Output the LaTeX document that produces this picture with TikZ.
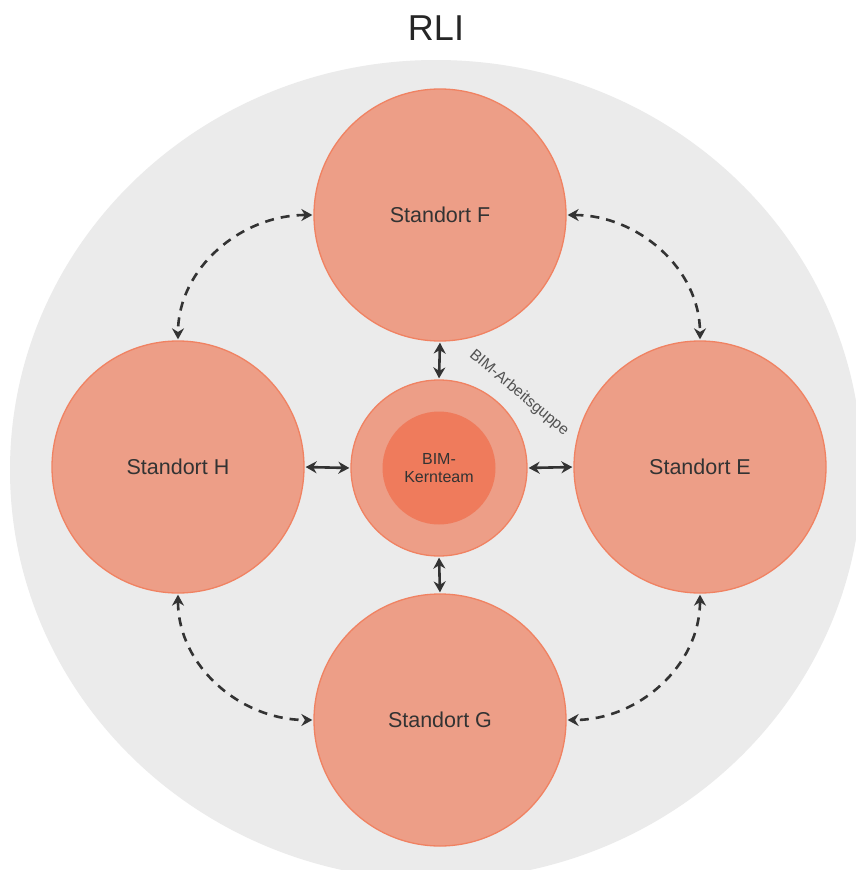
\documentclass[tikz,border=0pt]{standalone}
\usepackage{fontspec}
\setmainfont{Liberation Sans}
\usetikzlibrary{arrows.meta}
\definecolor{bggray}{HTML}{EBEBEB}
\definecolor{salmon}{HTML}{ED9E87}
\definecolor{salmonline}{HTML}{F08262}
\definecolor{coreorange}{HTML}{EF7B5C}
\definecolor{darktext}{HTML}{333333}
\tikzset{
  site/.style={circle, fill=salmon, draw=salmonline, line width=1.3pt, minimum size=252pt, inner sep=0pt, font=\fontsize{21.5}{24}\selectfont, text=darktext},
  hubring/.style={circle, fill=salmon, draw=salmonline, line width=1.3pt, minimum size=176pt, inner sep=0pt},
  hubcore/.style={circle, fill=coreorange, draw=none, minimum size=113pt, inner sep=0pt, font=\fontsize{16}{18}\selectfont, text=darktext, align=center},
  link/.style={draw=darktext, line width=2.6pt, {Stealth[length=11pt,width=12pt]}-{Stealth[length=11pt,width=12pt]}, shorten <=1pt, shorten >=1pt},
  dlink/.style={draw=darktext, line width=2.6pt, dash pattern=on 9pt off 7pt, {Stealth[length=11pt,width=12pt]}-{Stealth[length=11pt,width=12pt]}, shorten <=1pt, shorten >=1pt},
}
\begin{document}
\begin{tikzpicture}[x=1pt,y=-1pt]
\useasboundingbox (0,0) rectangle (856,870);
\fill[white] (0,0) rectangle (856,870);
\begin{scope}
\clip (0,0) rectangle (856,870);
\fill[bggray] (436,470) ellipse [x radius=426, y radius=410];
\end{scope}
\node[font=\fontsize{36}{40}\selectfont, text=black!85] (title) at (436,28) {RLI};
\node[site] (F) at (440,215) {Standort F};
\node[site] (H) at (178,467) {Standort H};
\node[site] (E) at (700,467) {Standort E};
\node[site] (G) at (440,720) {Standort G};
\node[hubring] (ring) at (439,468) {};
\node[hubcore] (core) at (439,468) {BIM-\\Kernteam};
\node[rotate=-40, font=\fontsize{15.5}{18}\selectfont, text=darktext!85] (wg) at (519,393) {BIM-Arbeitsguppe};
\draw[link] (F.south) -- (ring.north);
\draw[link] (H.east) -- (ring.west);
\draw[link] (ring.east) -- (E.west);
\draw[link] (ring.south) -- (G.north);
\draw[dlink] (F.west) to[out=180,in=90] (H.north);
\draw[dlink] (F.east) to[out=0,in=90] (E.north);
\draw[dlink] (H.south) to[out=-90,in=180] (G.west);
\draw[dlink] (E.south) to[out=-90,in=0] (G.east);
\end{tikzpicture}
\end{document}
